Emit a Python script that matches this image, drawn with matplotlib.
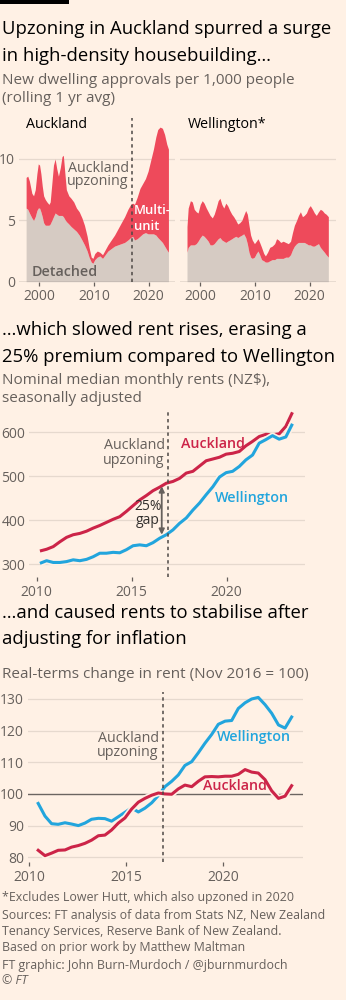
import matplotlib
matplotlib.use('Agg')
import matplotlib.pyplot as plt
import matplotlib.patheffects as pe
from matplotlib.patches import Rectangle

W, H = 346, 1000
BG = '#FFF1E5'
GREY = '#66605C'
GRID = '#E6D9CE'
DARK = '#33302E'
RED_AREA = '#EE4A5B'
GREY_AREA = '#D6CBC3'
AKL_RED = '#CC2448'
WLG_BLUE = '#22A5DD'
UPZONING = 2016.9

# --- chart 1: dwelling approvals per 1,000 people (rolling 1 yr avg) ---
akl_years = [1997.6, 1997.9, 1998.2, 1998.65, 1998.96, 1999.27, 1999.57, 1999.82, 2000.06, 2000.3,
             2000.55, 2000.8, 2001.1, 2001.4, 2001.77, 2002.0, 2002.3, 2002.6, 2002.9, 2003.2,
             2003.5, 2003.85, 2004.16, 2004.4, 2004.65, 2004.95, 2005.4, 2005.8, 2006.3, 2006.8,
             2007.3, 2007.8, 2008.26, 2008.75, 2009.1, 2009.5, 2009.8, 2010.15, 2010.6, 2011.07,
             2011.56, 2012.05, 2012.54, 2013.15, 2013.76, 2014.37, 2014.98, 2015.6, 2016.2, 2016.7,
             2017.06, 2017.4, 2017.9, 2018.4, 2018.9, 2019.4, 2019.88, 2020.37, 2020.86, 2021.3,
             2021.65, 2022.08, 2022.5, 2022.9, 2023.3, 2023.6]
akl_total = [8.5, 8.6, 8.2, 7.2, 7.0, 7.5, 8.8, 9.6, 9.5, 8.8,
             7.8, 7.0, 6.7, 6.5, 6.3, 6.5, 8.0, 9.5, 10.0, 9.2,
             8.6, 9.3, 10.2, 10.3, 9.0, 7.5, 7.0, 6.8, 6.5, 6.0,
             5.7, 5.2, 4.6, 3.7, 2.8, 2.0, 1.9, 2.3, 2.5, 2.4,
             2.2, 2.6, 3.0, 3.4, 3.8, 4.3, 4.8, 5.3, 5.9, 6.3,
             6.4, 6.3, 6.9, 7.6, 8.0, 8.4, 9.0, 9.9, 10.8, 11.8,
             12.4, 12.6, 12.5, 12.0, 11.2, 10.8]
akl_detached = [6.0, 5.9, 5.6, 5.2, 5.0, 5.3, 5.8, 6.0, 6.0, 5.7,
                5.3, 4.8, 4.6, 4.6, 4.6, 4.7, 5.0, 5.3, 5.6, 5.5,
                5.4, 5.4, 5.4, 5.3, 5.1, 4.9, 4.7, 4.5, 4.3, 4.1,
                3.8, 3.4, 3.0, 2.5, 2.0, 1.6, 1.5, 1.8, 2.0, 2.1,
                1.9, 2.2, 2.5, 2.7, 2.9, 3.0, 3.1, 3.2, 3.4, 3.6,
                3.7, 3.4, 3.5, 3.7, 3.9, 4.0, 3.9, 3.9, 3.9, 3.8,
                3.6, 3.4, 3.2, 2.9, 2.6, 2.4]

wlg_years = [1997.58, 1997.8, 1998.2, 1998.55, 1998.9, 1999.27, 1999.6, 2000.0, 2000.36, 2000.7,
             2001.1, 2001.45, 2001.8, 2002.2, 2002.55, 2002.9, 2003.27, 2003.6, 2003.94, 2004.3,
             2004.67, 2005.0, 2005.4, 2005.76, 2006.1, 2006.5, 2006.85, 2007.2, 2007.6, 2007.94,
             2008.3, 2008.6, 2008.9, 2009.2, 2009.5, 2009.9, 2010.24, 2010.55, 2010.85, 2011.2,
             2011.6, 2011.9, 2012.3, 2012.7, 2013.15, 2013.6, 2013.94, 2014.3, 2014.7, 2015.15,
             2015.6, 2016.1, 2016.5, 2016.85, 2017.2, 2017.6, 2017.94, 2018.3, 2018.67, 2019.0,
             2019.4, 2019.76, 2020.1, 2020.5, 2020.85, 2021.2, 2021.6, 2021.94, 2022.3, 2022.67,
             2023.0, 2023.4]
wlg_total = [4.5, 6.0, 6.6, 6.5, 5.9, 5.7, 5.6, 6.3, 6.6, 6.4,
             6.0, 5.7, 5.4, 5.2, 5.5, 6.0, 6.6, 6.8, 6.3, 6.0,
             6.4, 6.2, 5.8, 5.5, 5.3, 5.0, 4.7, 4.8, 5.0, 5.4,
             5.8, 5.5, 4.6, 3.8, 3.4, 3.1, 3.3, 3.5, 3.2, 2.8,
             2.3, 2.1, 2.4, 2.8, 2.9, 3.1, 3.5, 3.4, 3.2, 3.3,
             3.2, 3.1, 3.3, 4.0, 4.6, 5.0, 5.4, 5.7, 5.3, 5.4,
             5.6, 6.0, 6.2, 5.9, 5.6, 5.4, 5.7, 5.9, 5.8, 5.6,
             5.5, 5.3]
wlg_detached = [2.4, 2.8, 3.0, 3.0, 3.0, 3.1, 3.3, 3.6, 3.8, 3.7,
                3.5, 3.3, 3.0, 3.0, 3.1, 3.3, 3.5, 3.6, 3.4, 3.3,
                3.2, 3.3, 3.4, 3.5, 3.6, 3.7, 3.6, 3.7, 3.8, 3.9,
                3.6, 3.1, 2.4, 2.0, 1.9, 2.0, 2.3, 2.5, 2.2, 1.8,
                1.7, 1.6, 1.6, 1.7, 1.8, 1.8, 1.9, 1.9, 1.9, 1.9,
                2.0, 2.0, 2.2, 2.6, 2.9, 3.1, 3.2, 3.2, 3.2, 3.2,
                3.1, 3.0, 3.0, 2.9, 2.9, 3.0, 3.1, 2.8, 2.6, 2.4,
                2.2, 2.0]

# --- chart 2: nominal median monthly rents (NZ$) ---
rent_years = [2010.17, 2010.52, 2010.87, 2011.22, 2011.57, 2011.92, 2012.27, 2012.62, 2012.97, 2013.32,
              2013.67, 2014.02, 2014.37, 2014.72, 2015.07, 2015.42, 2015.77, 2016.12, 2016.47, 2016.82,
              2017.17, 2017.52, 2017.87, 2018.22, 2018.57, 2018.92, 2019.27, 2019.62, 2019.97, 2020.31,
              2020.66, 2021.01, 2021.36, 2021.71, 2022.06, 2022.41, 2022.76, 2023.11, 2023.46]
rent_akl = [330, 334, 340, 351, 361, 367, 370, 375, 382, 388,
            395, 402, 408, 420, 433, 446, 456, 467, 475, 484,
            488, 495, 507, 511, 523, 535, 539, 543, 550, 552,
            556, 569, 579, 590, 595, 594, 596, 613, 645]
rent_wlg = [302, 308, 304, 304, 306, 310, 308, 311, 317, 325,
            325, 327, 326, 333, 342, 344, 342, 349, 359, 367,
            378, 393, 405, 423, 439, 458, 476, 498, 508, 511,
            522, 537, 548, 575, 583, 592, 584, 589, 619]

# --- chart 3: real-terms change in rent (Nov 2016 = 100) ---
real_years = [2010.46, 2010.81, 2011.15, 2011.49, 2011.84, 2012.18, 2012.53, 2012.87, 2013.21, 2013.56,
              2013.90, 2014.24, 2014.59, 2014.93, 2015.27, 2015.62, 2015.96, 2016.31, 2016.65, 2016.99,
              2017.34, 2017.68, 2018.02, 2018.37, 2018.71, 2019.05, 2019.40, 2019.74, 2020.09, 2020.43,
              2020.77, 2021.12, 2021.46, 2021.80, 2022.15, 2022.49, 2022.84, 2023.18, 2023.52]
real_wlg = [97.0, 93.0, 90.6, 90.4, 90.9, 90.5, 90.0, 90.8, 92.0, 92.3,
            92.2, 91.4, 92.8, 94.2, 95.6, 94.3, 95.5, 97.2, 99.5, 102.3,
            104.0, 106.0, 109.0, 110.2, 113.0, 116.0, 118.8, 122.0, 123.0, 123.2,
            127.0, 128.8, 130.0, 130.5, 128.2, 125.5, 121.8, 120.8, 124.3]
real_akl = [82.2, 80.5, 81.3, 82.2, 82.3, 83.2, 83.7, 84.4, 85.4, 86.8,
            87.0, 88.6, 90.8, 92.4, 95.2, 97.4, 98.6, 99.6, 100.3, 100.0,
            99.9, 101.6, 102.8, 102.3, 104.0, 105.4, 105.5, 105.4, 105.6, 105.6,
            106.2, 107.7, 106.9, 106.6, 104.5, 101.0, 98.6, 99.3, 102.6]

plt.rcParams['font.family'] = ['Open Sans', 'DejaVu Sans']

fig = plt.figure(figsize=(W / 100, H / 100), dpi=100, facecolor=BG)

TS, SS = 13.35, 11    # titles, subtitles
LS = 10               # tick labels
AS = 10.3             # annotations
FS = 8.9              # footer


def px_axes(x0, y0, x1, y1):
    ax = fig.add_axes([x0 / W, 1 - y1 / H, (x1 - x0) / W, (y1 - y0) / H])
    ax.set_facecolor('none')
    for s in ax.spines.values():
        s.set_visible(False)
    ax.tick_params(axis='y', length=0, pad=3, labelsize=LS, labelcolor=GREY)
    ax.tick_params(axis='x', length=3, width=0.9, color=GREY, pad=2.5,
                   labelsize=LS, labelcolor=GREY)
    return ax


def px_text(x, y, s, **kw):
    kw.setdefault('va', 'center')
    fig.text(x / W, 1 - y / H, s, **kw)


def upzoning_line(ax):
    ax.axvline(UPZONING, color='#4D4845', lw=1.1, ls=(0, (2.2, 2.2)), zorder=4)


fig.add_artist(Rectangle((0, 1 - 4.3 / H), 69 / W, 4.3 / H, transform=fig.transFigure,
                         color='black', lw=0))

# titles
px_text(2, 29, 'Upzoning in Auckland spurred a surge', fontsize=TS, color='black')
px_text(2, 56, 'in high-density housebuilding…', fontsize=TS, color='black')
px_text(2, 81, 'New dwelling approvals per 1,000 people', fontsize=SS, color=GREY)
px_text(2, 99, '(rolling 1 yr avg)', fontsize=SS, color=GREY)

# chart 1 panels
for x0, x1, yrs, tot, det, name in [
        (19, 175, akl_years, akl_total, akl_detached, 'Auckland'),
        (180, 336, wlg_years, wlg_total, wlg_detached, 'Wellington*')]:
    ax = px_axes(x0, 118, x1, 281.7)
    ax.fill_between(yrs, 0, det, color=GREY_AREA, lw=0, zorder=2)
    ax.fill_between(yrs, det, tot, color=RED_AREA, lw=0, zorder=2)
    for v in [5, 10]:
        ax.axhline(v, color=GRID, lw=0.9, zorder=1)
    ax.axhline(0, color='#8A837E', lw=1.0, zorder=3)
    ax.set_xlim(1996.3, 2024.8)
    ax.set_ylim(0, 13.34)
    ax.set_xticks([2000, 2010, 2020])
    ax.set_yticks([0, 5, 10])
    if name == 'Auckland':
        upzoning_line(ax)
    else:
        ax.set_yticklabels([])
    px_text(x0 + 7.5, 125, name, fontsize=AS, color='black')

px_text(128.5, 168, 'Auckland', fontsize=AS, color=GREY, ha='right')
px_text(128.5, 181.5, 'upzoning', fontsize=AS, color=GREY, ha='right')
px_text(134, 210, 'Multi-', fontsize=9.4, color='white', fontweight='semibold')
px_text(134, 226, 'unit', fontsize=9.4, color='white', fontweight='semibold')
px_text(32, 272, 'Detached', fontsize=AS, color=GREY, fontweight='semibold')

# chart 2
px_text(2, 330, '…which slowed rent rises, erasing a', fontsize=TS, color='black')
px_text(2, 357, '25% premium compared to Wellington', fontsize=TS, color='black')
px_text(2, 380, 'Nominal median monthly rents (NZ$),', fontsize=SS, color=GREY)
px_text(2, 398, 'seasonally adjusted', fontsize=SS, color=GREY)

ax2 = px_axes(29.3, 411, 305, 577)
for v in [300, 400, 500, 600]:
    ax2.axhline(v, color=GRID, lw=0.9, zorder=1)
ax2.plot(rent_years, rent_akl, color=AKL_RED, lw=2.2, zorder=3, solid_capstyle='butt')
ax2.plot(rent_years, rent_wlg, color=WLG_BLUE, lw=2.2, zorder=3.5, solid_capstyle='butt',
         path_effects=[pe.Stroke(linewidth=4.6, foreground=BG), pe.Normal()])
upzoning_line(ax2)
ax2.annotate('', xy=(2016.58, 367), xytext=(2016.58, 477),
             arrowprops=dict(arrowstyle='<|-|>', color=GREY, lw=1.3,
                             mutation_scale=8, shrinkA=0, shrinkB=0), zorder=5)
ax2.set_xlim(2009.61, 2024.12)
ax2.set_ylim(271, 648)
ax2.set_xticks([2010, 2015, 2020])
ax2.set_yticks([300, 400, 500, 600])

px_text(164.5, 445.5, 'Auckland', fontsize=AS, color=GREY, ha='right')
px_text(164.5, 460.5, 'upzoning', fontsize=AS, color=GREY, ha='right')
px_text(181, 444.5, 'Auckland', fontsize=AS, color=AKL_RED, fontweight='semibold')
px_text(215, 497.5, 'Wellington', fontsize=AS, color=WLG_BLUE, fontweight='semibold')
px_text(148, 506, '25%', fontsize=10, color=DARK, ha='center')
px_text(148, 520, 'gap', fontsize=10, color=DARK, ha='center')

# chart 3
px_text(2, 613, '…and caused rents to stabilise after', fontsize=TS, color='black')
px_text(2, 639, 'adjusting for inflation', fontsize=TS, color='black')
px_text(2, 675, 'Real-terms change in rent (Nov 2016 = 100)', fontsize=SS, color=GREY)

ax3 = px_axes(28.3, 691.7, 303.3, 862)
for v in [80, 90, 110, 120, 130]:
    ax3.axhline(v, color=GRID, lw=0.9, zorder=1)
ax3.axhline(100, color='#6B6561', lw=1.0, zorder=2)
ax3.plot(real_years, real_wlg, color=WLG_BLUE, lw=2.2, zorder=3)
ax3.plot(real_years, real_akl, color=AKL_RED, lw=2.2, zorder=3.5,
         path_effects=[pe.Stroke(linewidth=4.6, foreground=BG), pe.Normal()])
upzoning_line(ax3)
ax3.set_xlim(2009.95, 2024.12)
ax3.set_ylim(78.5, 132.3)
ax3.set_xticks([2010, 2015, 2020])
ax3.set_yticks([80, 90, 100, 110, 120, 130])

px_text(158.5, 738, 'Auckland', fontsize=AS, color=GREY, ha='right')
px_text(158.5, 752.5, 'upzoning', fontsize=AS, color=GREY, ha='right')
px_text(217, 736.5, 'Wellington', fontsize=AS, color=WLG_BLUE, fontweight='semibold')
px_text(203, 786.5, 'Auckland', fontsize=AS, color=AKL_RED, fontweight='semibold')

# footer
px_text(2, 898, '*Excludes Lower Hutt, which also upzoned in 2020', fontsize=FS, color=GREY)
px_text(2, 916, 'Sources: FT analysis of data from Stats NZ, New Zealand', fontsize=FS, color=GREY)
px_text(2, 932, 'Tenancy Services, Reserve Bank of New Zealand.', fontsize=FS, color=GREY)
px_text(2, 948, 'Based on prior work by Matthew Maltman', fontsize=FS, color=GREY)
px_text(2, 966, 'FT graphic: John Burn-Murdoch / @jburnmurdoch', fontsize=FS, color=GREY)
px_text(2, 981, '© FT', fontsize=FS, color=GREY, style='italic')

fig.savefig('out.png', dpi=100, facecolor=BG)
